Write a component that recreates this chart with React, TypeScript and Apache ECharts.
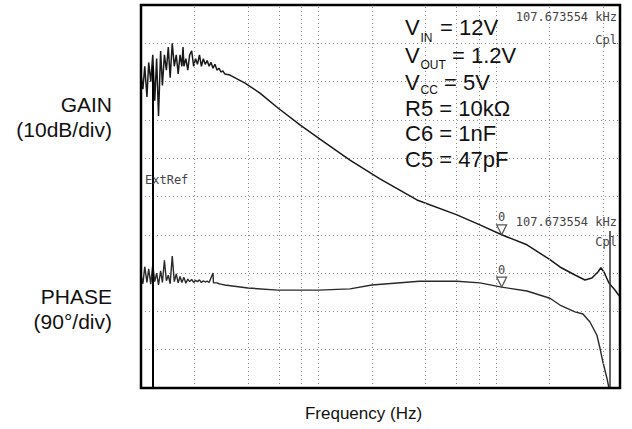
import React, { useEffect, useRef } from "react";
import * as echarts from "echarts";

const W = 632;
const H = 429;

// Frequency axis (Hz, log)
const freqMin = 1000;
const freqMax = 500000;
const gridFreqs = [2000, 4000, 6000, 8000, 10000, 20000, 40000, 60000, 80000, 100000, 200000, 400000];

// Gain axis (dB) 10 dB/div
const gainMin = -40;
const gainMax = 60;
const gainStep = 10;
// Phase axis (deg) 90 deg/div
const phaseMin = -360;
const phaseMax = 540;
const phaseStep = 90;

const gainFreqHz = [
  1000, 1025, 1050, 1080, 1105, 1135, 1165, 1195, 1225, 1255, 1290, 1320, 1355, 1390, 1425, 1460,
  1500, 1540, 1580, 1620, 1660, 1700, 1725, 1745, 1790, 1835, 1880, 1930, 1980, 2030, 2080, 2135,
  2190, 2245, 2300, 2360, 2420, 2480, 2545, 2610, 2680, 2750, 2820, 2890, 2965, 3170, 3854, 4682,
  5913, 7868, 10197, 15047, 22205, 35886, 60289, 81232, 107674, 149480, 201470, 229400, 278700,
  317300, 347400, 375500, 390400, 406000, 433100, 468200, 499500,
];
const gainDb = [
  42, 38, 44, 36, 45, 40, 47, 35, 46, 31, 48, 39, 47, 43, 49, 41,
  50, 44, 47, 42, 47, 44, 49, 44, 46, 43, 47, 48, 44, 46, 44.5, 47,
  44, 46, 44.5, 45.5, 44, 45, 43.5, 44.5, 43, 43.5, 42.5, 42.8, 42, 41.7, 39.6, 37.0,
  33.1, 28.7, 25.0, 19.5, 14.6, 9.1, 5.2, 2.6, 0, -2.6, -6.5, -8.4, -10.5,
  -11.8, -11.3, -9.7, -8.6, -9.7, -12.6, -14.4, -16.2,
];

const phaseFreqHz = [
  1000, 1025, 1050, 1080, 1105, 1135, 1165, 1195, 1225, 1255, 1290, 1320, 1355, 1390, 1425, 1460,
  1500, 1540, 1580, 1620, 1660, 1700, 1745, 1790, 1835, 1880, 1930, 1980, 2030, 2080, 2135, 2190,
  2245, 2300, 2360, 2420, 2545, 2560, 2680, 2750, 2820, 2965, 4000, 5913, 10000, 15047, 20000,
  37000, 60289, 81232, 107674, 149480, 201470, 229400, 278700, 309150, 338600, 370700, 385400,
  400600, 422000, 433100,
];
const phaseDeg = [
  -95, -115, -75, -112, -80, -116, -70, -110, -90, -118, -85, -112, -60, -108, -95, -115,
  -50, -110, -92, -113, -98, -112, -100, -114, -104, -110, -105, -112, -107, -110, -106, -112,
  -108, -111, -109, -112, -90, -113, -113, -115, -116, -118, -125, -130, -130, -127, -118,
  -109, -109, -113, -123, -132, -149, -165, -181, -186, -205, -236, -266,
  -299, -337, -360,
];

// Markers / cursors
const markerFreq = 107674;
const markerText = "107.673554 kHz";
const extRefFreq = 1168;
const extRefTopDb = 44;
const cursorFreq = 438900;
const cursorTopDb = 1;

const condLines = [
  { main: "V", sub: "IN", rest: "= 12V" },
  { main: "V", sub: "OUT", rest: "= 1.2V" },
  { main: "V", sub: "CC", rest: "= 5V" },
  { main: "R5 = 10k\u03A9", sub: "", rest: "" },
  { main: "C6 = 1nF", sub: "", rest: "" },
  { main: "C5 = 47pF", sub: "", rest: "" },
];

const SANS = '"Liberation Sans", Arial, sans-serif';
const MONO = '"DejaVu Sans Mono", monospace';

function valueAt(fs: number[], vs: number[], f: number) {
  const i = fs.indexOf(f);
  return i >= 0 ? vs[i] : 0;
}

export default function App() {
  const ref = useRef<HTMLDivElement>(null);
  useEffect(() => {
    document.body.style.margin = "0";
    const chart = echarts.init(ref.current!, null, { renderer: "svg", width: W, height: H });
    const gx = 141, gy = 5, gw = 479, gh = 383;
    const dotted = { color: "#8a8a8a", width: 1, type: [1, 3] as any };

    const restX = [440, 452, 444];
    const subDy = [10, 10, 7.5];
    const lineY = [27.5, 55, 82.5, 108, 133, 159.5];
    const graphic: any[] = [];
    condLines.forEach((l, i) => {
      graphic.push({ type: "text", x: 405, y: lineY[i], z: 50, style: { text: l.main, font: `22px ${SANS}`, fill: "#111", align: "left", verticalAlign: "middle" } });
      if (l.sub) {
        graphic.push({ type: "text", x: 420.5, y: lineY[i] + subDy[i], z: 50, style: { text: l.sub, font: `12px ${SANS}`, fill: "#111", align: "left", verticalAlign: "middle" } });
        graphic.push({ type: "text", x: restX[i], y: lineY[i], z: 50, style: { text: l.rest, font: `22px ${SANS}`, fill: "#111", align: "left", verticalAlign: "middle" } });
      }
    });
    const leftLabels = [
      { t: "GAIN", y: 104 },
      { t: "(10dB/div)", y: 129.5 },
      { t: "PHASE", y: 296 },
      { t: "(90\u00B0/div)", y: 321 },
    ];
    leftLabels.forEach((l) => {
      graphic.push({ type: "text", x: 112, y: l.y, style: { text: l.t, font: `21px ${SANS}`, fill: "#111", align: "right", verticalAlign: "middle" } });
    });
    graphic.push({ type: "text", x: 363.5, y: 413, style: { text: "Frequency (Hz)", font: `17px ${SANS}`, fill: "#111", align: "center", verticalAlign: "middle" } });
    const monoTexts = [
      { t: markerText, x: 617, y: 17, a: "right" },
      { t: "Cpl", x: 617, y: 39.5, a: "right" },
      { t: markerText, x: 617, y: 221.5, a: "right" },
      { t: "Cpl", x: 617, y: 242, a: "right" },
      { t: "ExtRef", x: 145, y: 180, a: "left" },
    ];
    monoTexts.forEach((m) => {
      graphic.push({ type: "text", x: m.x, y: m.y, z: 40, style: { text: m.t, font: `12px ${MONO}`, fill: "#444", align: m.a, verticalAlign: "middle" } });
    });
    graphic.push({ type: "rect", z: 100, silent: true, shape: { x: gx, y: gy, width: gw, height: gh }, style: { fill: "none", stroke: "#000", lineWidth: 2.5 } });

    const markerSymbol = "path://M0,0 L10,0 L5,10 Z";
    const mp = (val: number) => ({
      symbol: markerSymbol,
      symbolSize: [10, 10],
      symbolOffset: [0, -5],
      silent: true,
      itemStyle: { color: "rgba(0,0,0,0)", borderColor: "#555", borderWidth: 1.2 },
      label: { show: true, position: "top", distance: 1, formatter: "0", fontFamily: MONO, fontSize: 12, color: "#444" },
      data: [{ coord: [markerFreq, val] }],
    });

    const option: any = {
      animation: false,
      backgroundColor: "#fff",
      grid: { left: gx, top: gy, width: gw, height: gh, show: false },
      xAxis: {
        type: "log",
        logBase: 10,
        min: freqMin,
        max: freqMax,
        axisLine: { show: false },
        axisTick: { show: false },
        axisLabel: { show: false },
        splitLine: { show: false },
        minorTick: { show: false },
        minorSplitLine: { show: false },
      },
      yAxis: [
        {
          type: "value",
          min: gainMin,
          max: gainMax,
          interval: gainStep,
          axisLine: { show: false },
          axisTick: { show: false },
          axisLabel: { show: false },
          splitLine: { show: true, lineStyle: dotted },
        },
        {
          type: "value",
          min: phaseMin,
          max: phaseMax,
          interval: phaseStep,
          show: false,
          splitLine: { show: false },
        },
      ],
      series: [
        {
          type: "line",
          z: 1,
          data: [],
          silent: true,
          markLine: {
            silent: true,
            symbol: "none",
            label: { show: false },
            lineStyle: dotted,
            data: gridFreqs.map((f) => ({ xAxis: f })),
          },
        },
        {
          name: "Gain",
          type: "line",
          yAxisIndex: 0,
          showSymbol: false,
          z: 3,
          lineStyle: { color: "#1a1a1a", width: 1.5 },
          data: gainFreqHz.map((f, i) => [f, gainDb[i]]),
          markPoint: mp(valueAt(gainFreqHz, gainDb, markerFreq)),
          markLine: {
            silent: true,
            symbol: "none",
            label: { show: false },
            data: [
              [
                { coord: [extRefFreq, extRefTopDb], lineStyle: { color: "#000", width: 2, type: "solid" } },
                { coord: [extRefFreq, gainMin] },
              ],
              [
                { coord: [cursorFreq, cursorTopDb], lineStyle: { color: "#333", width: 1.5, type: "solid" } },
                { coord: [cursorFreq, gainMin] },
              ],
            ],
          },
        },
        {
          name: "Phase",
          type: "line",
          yAxisIndex: 1,
          showSymbol: false,
          z: 3,
          lineStyle: { color: "#2a2a2a", width: 1.4 },
          data: phaseFreqHz.map((f, i) => [f, phaseDeg[i]]),
          markPoint: mp(valueAt(phaseFreqHz, phaseDeg, markerFreq)),
        },
      ],
      graphic,
    };
    chart.setOption(option);
    return () => chart.dispose();
  }, []);
  return <div ref={ref} style={{ width: W, height: H }} />;
}
